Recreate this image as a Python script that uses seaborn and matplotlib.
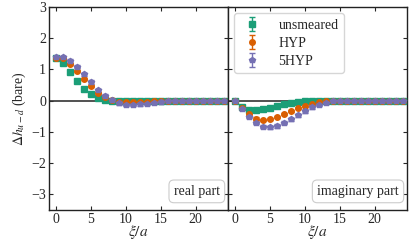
import numpy as np
import matplotlib
matplotlib.use("Agg")
import matplotlib.pyplot as plt
import seaborn as sns

xi = list(range(0, 25))
labels = ["unsmeared", "HYP", "5HYP"]

real_unsmeared = [1.37, 1.22, 0.93, 0.62, 0.37, 0.20, 0.08, 0.02, 0.00, -0.01, -0.02, -0.02, -0.015,
                  -0.01, -0.01, -0.005, 0.0, 0.0, 0.0, 0.0, 0.0, 0.0, 0.0, 0.0, 0.0]
real_hyp = [1.38, 1.36, 1.17, 0.95, 0.69, 0.46, 0.26, 0.11, 0.02, -0.03, -0.04, -0.04, -0.035,
            -0.03, -0.02, -0.01, -0.005, 0.0, 0.0, 0.0, 0.0, 0.0, 0.0, 0.0, 0.0]
real_5hyp = [1.39, 1.39, 1.27, 1.09, 0.85, 0.60, 0.34, 0.15, 0.02, -0.085, -0.13, -0.13, -0.12,
             -0.10, -0.07, -0.04, -0.02, -0.01, 0.0, 0.0, 0.0, 0.0, 0.0, 0.0, 0.0]

imag_unsmeared = [0.0, -0.21, -0.30, -0.31, -0.28, -0.22, -0.17, -0.12, -0.08, -0.04, -0.02, -0.01,
                  0.0, 0.0, 0.0, 0.0, 0.0, 0.0, 0.0, 0.0, 0.0, 0.0, 0.0, 0.0, 0.0]
imag_hyp = [0.0, -0.22, -0.44, -0.57, -0.61, -0.59, -0.51, -0.43, -0.33, -0.24, -0.16, -0.10,
            -0.05, -0.02, -0.01, 0.0, 0.0, 0.0, 0.0, 0.0, 0.0, 0.0, 0.0, 0.0, 0.0]
imag_5hyp = [0.0, -0.25, -0.51, -0.70, -0.83, -0.85, -0.81, -0.70, -0.59, -0.46, -0.33, -0.21,
             -0.13, -0.06, -0.02, -0.01, 0.0, 0.0, 0.0, 0.0, 0.0, 0.0, 0.0, 0.0, 0.0]

err_unsmeared = [0.03] * 25
err_hyp = [0.035] * 25
err_5hyp = [0.05] * 25

sns.set_style("ticks")
plt.rcParams['font.family'] = ['Liberation Serif', 'DejaVu Serif']
plt.rcParams['mathtext.fontset'] = 'stix'
plt.rcParams['font.size'] = 10

palette = sns.color_palette("Dark2", 3)
markers = ["s", "o", "p"]

fig, axes = plt.subplots(1, 2, figsize=(4.11, 2.42), dpi=100, sharey=True)
fig.subplots_adjust(left=0.119, right=0.99, top=0.971, bottom=0.132, wspace=0)

panels = [
    (axes[0], [real_unsmeared, real_hyp, real_5hyp], "real part"),
    (axes[1], [imag_unsmeared, imag_hyp, imag_5hyp], "imaginary part"),
]
errs = [err_unsmeared, err_hyp, err_5hyp]

for ax, series, title in panels:
    ax.axhline(0, color="#333333", lw=1.2, zorder=1)
    for vals, err, col, mk, lab in zip(series, errs, palette, markers, labels):
        ax.errorbar(xi, vals, yerr=err, fmt=mk, color=col, ms=4, capsize=2.2,
                    elinewidth=1, capthick=1, label=lab, zorder=3)
    ax.set_xlim(-1, 24.6)
    ax.set_ylim(-3.5, 3)
    ax.set_xticks([0, 5, 10, 15, 20])
    ax.set_yticks([-3, -2, -1, 0, 1, 2, 3])
    ax.tick_params(direction="in", top=True, right=True, length=3, width=0.8, labelsize=10, pad=2)
    for s in ax.spines.values():
        s.set_linewidth(1.0)
        s.set_color("#222222")
    ax.set_xlabel(r"$\xi/a$", fontsize=11, labelpad=-2)
    ax.text(0.955, 0.06, title, transform=ax.transAxes, ha="right", va="bottom", fontsize=10,
            bbox=dict(boxstyle="round,pad=0.35", fc="white", ec="#cccccc", lw=0.8))

axes[0].set_ylabel(r"$\Delta h_{u-d}$ (bare)", fontsize=10, labelpad=2)
leg = axes[1].legend(loc="upper left", fontsize=10, frameon=True, borderaxespad=0.45,
                     handletextpad=1.0, labelspacing=0.35, handlelength=1.8, fancybox=True)
leg.get_frame().set_edgecolor("#cccccc")

fig.savefig("out.png", dpi=100)
